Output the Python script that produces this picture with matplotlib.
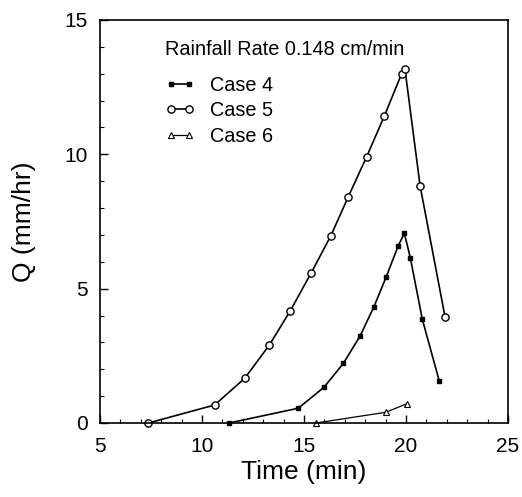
import matplotlib
matplotlib.use("Agg")
import matplotlib.pyplot as plt
from matplotlib.ticker import MultipleLocator

plt.rcParams['font.family'] = ['Liberation Sans', 'DejaVu Sans']

case4_t = [11.33, 14.72, 15.98, 16.93, 17.75, 18.43, 19.03, 19.62, 19.92, 20.21, 20.80, 21.63]
case4_q = [0.0, 0.55, 1.33, 2.22, 3.24, 4.33, 5.44, 6.60, 7.06, 6.15, 3.86, 1.56]

case5_t = [7.37, 10.62, 12.10, 13.30, 14.33, 15.34, 16.31, 17.17, 18.07, 18.94, 19.78, 19.95, 20.69, 21.91]
case5_q = [0.0, 0.67, 1.67, 2.90, 4.18, 5.57, 6.96, 8.42, 9.91, 11.43, 12.99, 13.16, 8.83, 3.96]

case6_t = [15.59, 19.02, 20.05]
case6_q = [0.0, 0.40, 0.72]

fig = plt.figure(figsize=(5.22, 4.97), dpi=100)
ax = fig.add_axes([0.1916, 0.1489, 0.7816, 0.8109])

ax.plot(case4_t, case4_q, color='black', lw=1.2, marker='s', ms=3.2,
        mfc='black', mec='black', label='Case 4', clip_on=False)
ax.plot(case5_t, case5_q, color='black', lw=1.2, marker='o', ms=5.2,
        mfc='white', mec='black', mew=1.0, label='Case 5', clip_on=False)
ax.plot(case6_t, case6_q, color='black', lw=0.9, marker='^', ms=4.5,
        mfc='white', mec='black', mew=0.8, label='Case 6', clip_on=False)

ax.set_xlim(5, 25)
ax.set_ylim(0, 15)
ax.xaxis.set_major_locator(MultipleLocator(5))
ax.xaxis.set_minor_locator(MultipleLocator(1))
ax.yaxis.set_major_locator(MultipleLocator(5))
ax.yaxis.set_minor_locator(MultipleLocator(1))
ax.tick_params(which='both', direction='in', top=False, right=False)
ax.tick_params(which='major', length=6, width=1.0, labelsize=15)
ax.tick_params(axis='x', which='major', pad=10)
ax.tick_params(axis='y', which='major', pad=9)
ax.tick_params(which='minor', length=3, width=0.8)
for s in ax.spines.values():
    s.set_linewidth(1.2)

ax.set_xlabel('Time (min)', fontsize=19, labelpad=3)
ax.set_ylabel('Q (mm/hr)', fontsize=19, labelpad=20)

ax.text(0.16, 0.926, 'Rainfall Rate 0.148 cm/min', transform=ax.transAxes,
        fontsize=14.3, ha='left', va='center')

leg = ax.legend(loc='upper left', bbox_to_anchor=(0.159, 0.862), frameon=False,
                fontsize=14.3, numpoints=2, handlelength=1.5, handletextpad=0.75,
                labelspacing=0.33, borderpad=0.0, borderaxespad=0.0)

fig.savefig('out.png', dpi=100)
